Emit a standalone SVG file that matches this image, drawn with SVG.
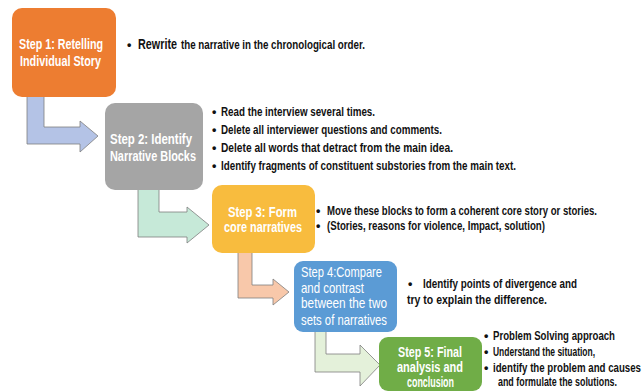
<svg xmlns="http://www.w3.org/2000/svg" width="643" height="392" viewBox="0 0 643 392">
<style>
.box{stroke:none}
.bt{font-family:"Liberation Sans",Arial,sans-serif;font-size:14px;font-weight:bold;fill:#ffffff}
.bt4{font-family:"Liberation Sans",Arial,sans-serif;font-size:14.5px;font-weight:normal;fill:#ffffff}
.tx{font-family:"Liberation Sans",Arial,sans-serif;font-size:12.5px;font-weight:bold;fill:#111111}
.arr{stroke:#7f7f7f;stroke-width:0.8;stroke-linejoin:miter}
</style>
<rect width="643" height="392" fill="#ffffff"/>
<g id="connectors">
  <path class="arr" fill="#b4c3e6" d="M27,90 L44,90 L44,127 L80,127 L80,121 L98,136 L80,152 L80,144 L27,144 Z"/>
  <path class="arr" fill="#c6e9d8" d="M138,186 L159,186 L159,212 L187,212 L187,207 L209,225 L187,243 L187,237 L138,237 Z"/>
  <path class="arr" fill="#f8c8aa" d="M238,250 L252,250 L252,285 L273,285 L273,279 L289,292 L273,305 L273,298 L238,298 Z"/>
  <path class="arr" fill="#e4f1da" d="M315,330 L326,330 L326,354 L360,354 L360,345 L380,365 L360,386 L360,372 L315,372 Z"/>
</g>
<g id="step1">
  <rect class="box" x="12" y="8" width="104" height="89" rx="10" fill="#ed7d31"/>
  <text class="bt" x="19" y="49" textLength="84" lengthAdjust="spacingAndGlyphs">Step 1: Retelling</text>
  <text class="bt" x="20" y="66" textLength="81" lengthAdjust="spacingAndGlyphs">Individual Story</text>
  <text class="tx" x="127" y="49">•</text>
  <text class="tx" x="138" y="49" style="font-size:14.5px" textLength="39" lengthAdjust="spacingAndGlyphs">Rewrite</text>
  <text class="tx" x="181" y="49" textLength="184" lengthAdjust="spacingAndGlyphs">the narrative in the chronological order.</text>
</g>
<g id="step2">
  <rect class="box" x="105" y="103" width="98" height="87" rx="10" fill="#a5a5a5"/>
  <text class="bt" x="110" y="144" textLength="82" lengthAdjust="spacingAndGlyphs">Step 2: Identify</text>
  <text class="bt" x="110" y="161" textLength="86" lengthAdjust="spacingAndGlyphs">Narrative Blocks</text>
  <text class="tx" x="212" y="116">•</text>
  <text class="tx" x="221" y="116" textLength="154" lengthAdjust="spacingAndGlyphs">Read the interview several times.</text>
  <text class="tx" x="212" y="133.5">•</text>
  <text class="tx" x="221" y="133.5" textLength="221" lengthAdjust="spacingAndGlyphs">Delete all interviewer questions and comments.</text>
  <text class="tx" x="212" y="151.5">•</text>
  <text class="tx" x="221" y="151.5" textLength="232" lengthAdjust="spacingAndGlyphs">Delete all words that detract from the main idea.</text>
  <text class="tx" x="212" y="169.5">•</text>
  <text class="tx" x="221" y="169.5" textLength="295" lengthAdjust="spacingAndGlyphs">Identify fragments of constituent substories from the main text.</text>
</g>
<g id="step3">
  <rect class="box" x="212" y="185" width="103" height="68" rx="10" fill="#f8bc3e"/>
  <text class="bt" x="228" y="217" textLength="69" lengthAdjust="spacingAndGlyphs">Step 3: Form</text>
  <text class="bt" x="224" y="232" textLength="78" lengthAdjust="spacingAndGlyphs">core narratives</text>
  <text class="tx" x="316" y="215">•</text>
  <text class="tx" x="327" y="215" textLength="270" lengthAdjust="spacingAndGlyphs">Move these blocks to form a coherent core story or stories.</text>
  <text class="tx" x="316" y="230">•</text>
  <text class="tx" x="327" y="230" textLength="218" lengthAdjust="spacingAndGlyphs">(Stories, reasons for violence, Impact, solution)</text>
</g>
<g id="step4">
  <rect class="box" x="294" y="261" width="103" height="71" rx="9" fill="#5b9bd5"/>
  <text class="bt4" x="301" y="277" textLength="81" lengthAdjust="spacingAndGlyphs">Step 4:Compare</text>
  <text class="bt4" x="301" y="293" textLength="63" lengthAdjust="spacingAndGlyphs">and contrast</text>
  <text class="bt4" x="301" y="308" textLength="86" lengthAdjust="spacingAndGlyphs">between the two</text>
  <text class="bt4" x="301" y="325" textLength="86" lengthAdjust="spacingAndGlyphs">sets of narratives</text>
  <text class="tx" x="408" y="287.5">•</text>
  <text class="tx" x="423" y="287.5" textLength="154" lengthAdjust="spacingAndGlyphs">Identify points of divergence and</text>
  <text class="tx" x="407" y="303.5" textLength="140" lengthAdjust="spacingAndGlyphs">try to explain the difference.</text>
</g>
<g id="step5">
  <rect class="box" x="379" y="337" width="103" height="54" rx="9" fill="#70ad47"/>
  <text class="bt" x="398" y="357" textLength="64" lengthAdjust="spacingAndGlyphs">Step 5: Final</text>
  <text class="bt" x="397" y="372" textLength="66" lengthAdjust="spacingAndGlyphs">analysis and</text>
  <text class="bt" x="407" y="387" textLength="47" lengthAdjust="spacingAndGlyphs">conclusion</text>
  <text class="tx" x="484" y="339.5">•</text>
  <text class="tx" x="493" y="339.5" textLength="122" lengthAdjust="spacingAndGlyphs">Problem Solving approach</text>
  <text class="tx" x="484" y="356">•</text>
  <text class="tx" x="493" y="356" textLength="102" lengthAdjust="spacingAndGlyphs">Understand the situation,</text>
  <text class="tx" x="484" y="371.5">•</text>
  <text class="tx" x="493" y="371.5" textLength="148" lengthAdjust="spacingAndGlyphs">identify the problem and causes</text>
  <text class="tx" x="498" y="386" textLength="119" lengthAdjust="spacingAndGlyphs">and formulate the solutions.</text>
</g>
</svg>
